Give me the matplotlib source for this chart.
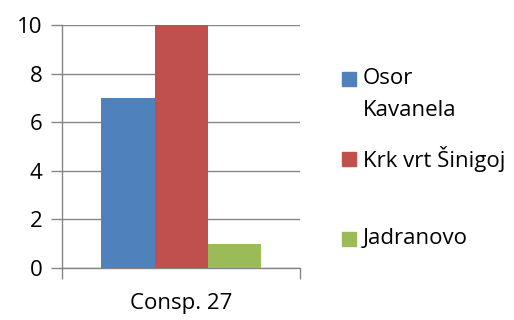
import matplotlib
matplotlib.use("Agg")
import matplotlib.pyplot as plt
from matplotlib.patches import Rectangle

categories = ["Consp. 27"]
series_names = ["Osor\nKavanela", "Krk vrt Šinigoj", "Jadranovo"]
series_values = [[7], [10], [1]]
series_colors = ["#4F81BD", "#C0504D", "#9BBB59"]
y_ticks = [0, 2, 4, 6, 8, 10]

plt.rcParams['font.family'] = ['Open Sans', 'DejaVu Sans']
axis_gray = "#868686"
fs = 16

fig = plt.figure(figsize=(5.14, 3.2), dpi=100)
ax = fig.add_axes([62 / 514, 1 - 268 / 320, 238 / 514, 243 / 320])

bar_w = 53 / 238
for i, (vals, color) in enumerate(zip(series_values, series_colors)):
    xs = [k + (i - 1) * bar_w for k in range(len(categories))]
    ax.bar(xs, vals, width=bar_w, color=color, zorder=3)

ax.set_xlim(-0.5, len(categories) - 0.5)
ax.set_ylim(0, 10)
ax.set_yticks(y_ticks)
ax.set_yticklabels([str(t) for t in y_ticks], fontsize=fs)
ax.yaxis.grid(True, color=axis_gray, linewidth=1, zorder=0)

ax.set_xticks(range(len(categories)))
ax.set_xticklabels(categories, fontsize=fs)
ax.set_xticks([k - 0.5 for k in range(len(categories) + 1)], minor=True)
ax.tick_params(axis='x', which='major', length=0, pad=18)
ax.tick_params(axis='x', which='minor', length=8, color=axis_gray, width=1)
ax.tick_params(axis='y', length=8, color=axis_gray, width=1, pad=6)

for side in ["top", "right"]:
    ax.spines[side].set_visible(False)
for side in ["left", "bottom"]:
    ax.spines[side].set_color(axis_gray)
    ax.spines[side].set_linewidth(1)

# legend drawn by hand to get Excel-like spacing
legend_y = [79, 159, 239]
for name, color, yc in zip(series_names, series_colors, legend_y):
    fig.patches.append(Rectangle((342 / 514, 1 - (yc + 7) / 320), 14 / 514, 14 / 320,
                                 transform=fig.transFigure, color=color))
    for j, line in enumerate(name.split("\n")):
        fig.text(363 / 514, 1 - (yc + j * 32) / 320, line, fontsize=fs,
                 va='center', ha='left')

fig.savefig("out.png", dpi=100)
